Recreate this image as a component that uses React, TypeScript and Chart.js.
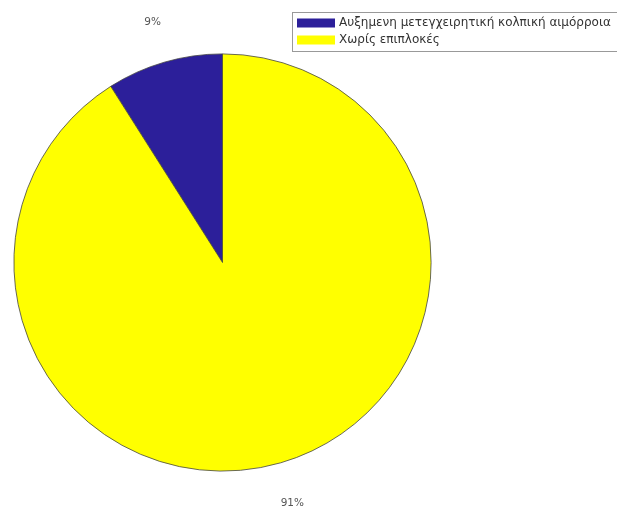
import React, { useEffect, useRef } from "react";
import { Chart, registerables } from "chart.js";

Chart.register(...registerables);

const categories = ["Αυξημενη μετεγχειρητική κολπική αιμόρροια", "Χωρίς επιπλοκές"];
const values = [9, 91];
const percentLabels = ["9%", "91%"];
const colors = ["#2c1f9a", "#ffff00"];

const FONT = '"DejaVu Sans", "Liberation Sans", Arial, sans-serif';

const overlayPlugin = {
  id: "overlay",
  afterDraw(chart: any) {
    const ctx = chart.ctx;
    const meta = chart.getDatasetMeta(0);
    ctx.save();
    // percentage labels
    ctx.font = `10.5px ${FONT}`;
    ctx.fillStyle = "#555";
    ctx.textAlign = "center";
    ctx.textBaseline = "middle";
    meta.data.forEach((arc: any, i: number) => {
      const { x, y, startAngle, endAngle, outerRadius } = arc.getProps(
        ["x", "y", "startAngle", "endAngle", "outerRadius"],
        true
      );
      const mid = (startAngle + endAngle) / 2;
      const r = outerRadius * 1.2;
      ctx.fillText(percentLabels[i], x + Math.cos(mid) * r, y + Math.sin(mid) * r);
    });
    // legend
    const bx = 292.5, by = 12.5, bw = 340, bh = 39;
    ctx.fillStyle = "#fff";
    ctx.fillRect(bx, by, bw, bh);
    ctx.strokeStyle = "#999";
    ctx.lineWidth = 1;
    ctx.strokeRect(bx, by, bw, bh);
    ctx.textAlign = "left";
    ctx.font = `12px ${FONT}`;
    categories.forEach((c, i) => {
      const cy = 23 + i * 17;
      ctx.fillStyle = colors[i];
      ctx.fillRect(297, cy - 4.5, 38, 9);
      ctx.fillStyle = "#333";
      ctx.fillText(c, 339, cy);
    });
    ctx.restore();
  },
};

export default function App() {
  const ref = useRef<HTMLCanvasElement>(null);
  useEffect(() => {
    const total = values.reduce((a, b) => a + b, 0);
    const chart = new Chart(ref.current!, {
      type: "pie",
      data: {
        labels: categories,
        datasets: [
          {
            data: values,
            backgroundColor: colors,
            borderColor: "#444",
            borderWidth: 0.8,
          },
        ],
      },
      options: {
        responsive: false,
        animation: false,
        rotation: -(values[0] / total) * 360,
        layout: { padding: { left: 13.5, right: 185.5, top: 53.5, bottom: 37.5 } },
        plugins: {
          legend: { display: false },
          tooltip: { enabled: false },
        },
      },
      plugins: [overlayPlugin],
    });
    return () => chart.destroy();
  }, []);
  return (
    <div style={{ position: "fixed", left: 0, top: 0, width: 617, height: 509, background: "#fff" }}>
      <canvas ref={ref} width={617} height={509} />
    </div>
  );
}
